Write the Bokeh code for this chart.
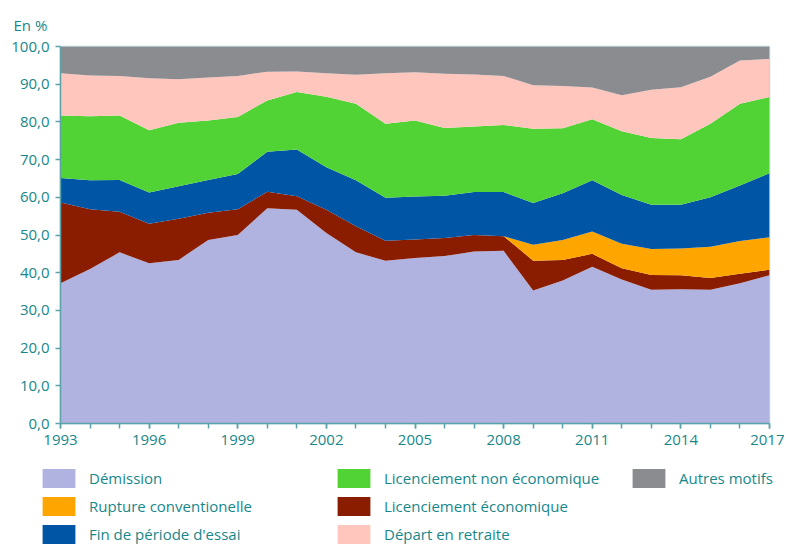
from bokeh.plotting import figure
from bokeh.models import (ColumnDataSource, Range1d, FixedTicker, Legend, LegendItem)
from bokeh.layouts import column, row
from bokeh.embed import file_html
from bokeh.resources import INLINE

years = list(range(1993, 2018))

demission = [37.2, 41.0, 45.4, 42.5, 43.4, 48.7, 50.0, 57.1, 56.7, 50.5, 45.4, 43.2, 43.9,
             44.4, 45.6, 45.8, 35.3, 37.9, 41.6, 38.2, 35.5, 35.6, 35.5, 37.2, 39.3]
lic_eco = [21.4, 15.8, 10.8, 10.5, 10.9, 7.2, 6.8, 4.4, 3.6, 6.2, 6.9, 5.3, 4.9,
           4.8, 4.4, 3.9, 7.9, 5.5, 3.4, 3.0, 3.9, 3.7, 3.1, 2.5, 1.5]
rupture = [0, 0, 0, 0, 0, 0, 0, 0, 0, 0, 0, 0, 0,
           0, 0, 0, 4.2, 5.3, 5.9, 6.5, 6.9, 7.1, 8.3, 8.7, 8.6]
fin_essai = [6.5, 7.7, 8.4, 8.3, 8.6, 8.7, 9.4, 10.6, 12.4, 11.3, 12.2, 11.4, 11.4,
             11.2, 11.4, 11.7, 11.1, 12.4, 13.6, 12.9, 11.7, 11.6, 13.1, 14.7, 17.0]
lic_non_eco = [16.6, 17.0, 17.1, 16.5, 16.9, 15.8, 15.1, 13.6, 15.2, 18.7, 20.3, 19.6, 20.2,
               18.0, 17.4, 17.8, 19.7, 17.2, 16.2, 16.9, 17.7, 17.4, 19.5, 21.7, 20.2]
retraite = [11.2, 10.8, 10.5, 13.8, 11.5, 11.4, 10.9, 7.6, 5.5, 6.2, 7.7, 13.4, 12.8,
            14.4, 13.8, 13.0, 11.5, 11.2, 8.4, 9.6, 12.8, 13.8, 12.5, 11.5, 10.1]
autres = [7.1, 7.7, 7.8, 8.4, 8.7, 8.2, 7.8, 6.7, 6.6, 7.1, 7.5, 7.1, 6.8,
          7.2, 7.4, 7.8, 10.3, 10.5, 10.9, 12.9, 11.5, 10.8, 8.0, 3.7, 3.3]

series_keys = ["demission", "lic_eco", "rupture", "fin_essai", "lic_non_eco", "retraite", "autres"]
series_labels = ["Démission", "Licenciement économique", "Rupture conventionelle",
                 "Fin de période d'essai", "Licenciement non économique",
                 "Départ en retraite", "Autres motifs"]
series_colors = ["#B0B3E0", "#8A1C00", "#FFA500", "#0055A5", "#52D335", "#FFC6BE", "#8B8C90"]
legend_order = ["demission", "rupture", "fin_essai", "lic_non_eco", "lic_eco", "retraite", "autres"]

y_ticks = [0, 10, 20, 30, 40, 50, 60, 70, 80, 90, 100]
y_tick_labels = ["0,0", "10,0", "20,0", "30,0", "40,0", "50,0", "60,0", "70,0", "80,0", "90,0", "100,0"]
x_label_years = [1993, 1996, 1999, 2002, 2005, 2008, 2011, 2014, 2017]
unit_text = "En %"

source = ColumnDataSource(data=dict(year=years, demission=demission, lic_eco=lic_eco,
                                    rupture=rupture, fin_essai=fin_essai,
                                    lic_non_eco=lic_non_eco, retraite=retraite, autres=autres))

TEAL = "#17878B"
AXIS = "#5BA3A8"
FONT = "Open Sans"

p = figure(width=784, height=460, output_backend="svg", toolbar_location=None,
           x_range=Range1d(1993, 2017), y_range=Range1d(0, 100),
           min_border_left=60, min_border_right=15, min_border_top=46, min_border_bottom=37,
           title=unit_text)
p.background_fill_color = "white"
p.border_fill_color = "white"
p.outline_line_color = "#B9D7DB"
p.outline_line_width = 1.5
p.xgrid.visible = False
p.ygrid.visible = False
p.title.text_color = TEAL
p.title.text_font = FONT
p.title.text_font_size = "15px"
p.title.text_font_style = "normal"
p.title.align = "left"
p.title.offset = -47
p.title.standoff = 24

p.varea_stack(stackers=series_keys, x="year", color=series_colors, source=source)

p.xaxis.ticker = FixedTicker(ticks=x_label_years, minor_ticks=years)
p.yaxis.ticker = FixedTicker(ticks=y_ticks)
p.yaxis.major_label_overrides = dict(zip(y_ticks, y_tick_labels))

for ax in (p.xaxis[0], p.yaxis[0]):
    ax.axis_line_color = AXIS
    ax.axis_line_width = 1.5
    ax.major_tick_line_color = AXIS
    ax.major_tick_line_width = 1.5
    ax.minor_tick_line_color = AXIS
    ax.minor_tick_line_width = 1.5
    ax.major_tick_in = 0
    ax.major_tick_out = 5
    ax.minor_tick_in = 0
    ax.minor_tick_out = 5
    ax.major_label_text_color = TEAL
    ax.major_label_text_font = FONT
    ax.major_label_text_font_size = "15px"
    ax.major_label_standoff = 6
p.yaxis.minor_tick_line_color = None

# legend panel: a second figure without axes whose frame fills it; the same stacked
# areas are drawn there outside its visible range so that the legend has real glyphs
lg = figure(width=784, height=86, output_backend="svg", toolbar_location=None,
            x_range=Range1d(0, 1), y_range=Range1d(-2, -1),
            x_axis_location=None, y_axis_location=None,
            min_border_left=0, min_border_right=0, min_border_top=0, min_border_bottom=0)
lg.grid.visible = False
lg.outline_line_color = None
lg.background_fill_color = "white"
lg.border_fill_color = "white"
lg_renderers = lg.varea_stack(stackers=series_keys, x="year", color=series_colors, source=source)
rmap = dict(zip(series_keys, lg_renderers))
lmap = dict(zip(series_keys, series_labels))
items = [LegendItem(label=lmap[k], renderers=[rmap[k]]) for k in legend_order]
legend = Legend(items=items, nrows=3, location=(38, 0),
                glyph_width=41, glyph_height=24, label_standoff=10, label_width=240,
                spacing=4, padding=0, margin=0, border_line_color=None,
                background_fill_alpha=0, label_text_color=TEAL, label_text_font=FONT,
                label_text_font_size="15px", label_height=24)
lg.add_layout(legend, "center")

layout = column(p, row(lg), spacing=0)
open("out.html", "w").write(file_html(layout, INLINE))
